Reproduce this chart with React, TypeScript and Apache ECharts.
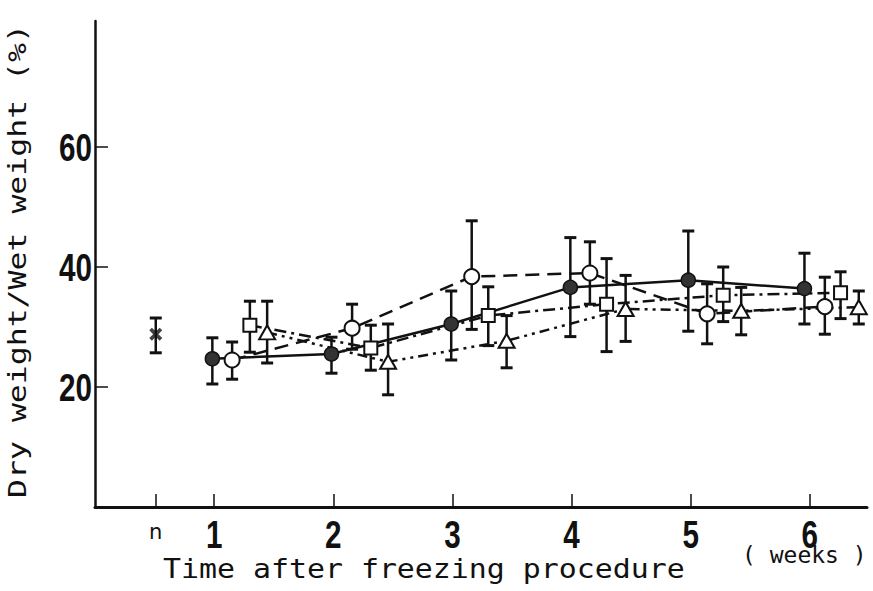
import React, { useEffect, useRef } from "react";
import * as echarts from "echarts";

// ---- data ----
const xTickValues = [0.51, 1, 2, 3, 4, 5, 6];
const xNumberLabels = [1, 2, 3, 4, 5, 6];
const xNormalLabel = [0.51];
const yTickValues = [20, 40, 60];

const normalX = [0.51];
const normalY = [28.8];
const normalLo = [25.7];
const normalHi = [31.5];

const filledX = [0.985, 1.985, 2.99, 3.99, 4.98, 5.955];
const filledY = [24.7, 25.5, 30.5, 36.6, 37.8, 36.4];
const filledLo = [20.5, 22.3, 24.5, 28.4, 29.3, 30.5];
const filledHi = [28.2, 28.3, 36.0, 44.9, 46.0, 42.3];

const openX = [1.151, 2.158, 3.162, 4.154, 5.138, 6.126];
const openY = [24.5, 29.8, 38.4, 39.0, 32.2, 33.4];
const openLo = [21.3, 26.3, 29.6, 33.8, 27.2, 28.8];
const openHi = [27.5, 33.8, 47.7, 44.2, 37.2, 38.3];

const squareX = [1.3, 2.315, 3.301, 4.294, 5.273, 6.258];
const squareY = [30.3, 26.5, 31.9, 33.8, 35.3, 35.7];
const squareLo = [25.8, 22.8, 26.9, 25.9, 30.9, 31.4];
const squareHi = [34.3, 30.3, 36.7, 41.4, 40.0, 39.2];

const triX = [1.445, 2.46, 3.455, 4.454, 5.424, 6.411];
const triY = [29.1, 24.2, 27.7, 33.0, 32.7, 33.3];
const triLo = [24.0, 18.7, 23.2, 27.6, 28.7, 30.5];
const triHi = [34.3, 30.5, 31.9, 38.6, 36.6, 36.0];

const numFont = "'Liberation Sans', Arial, sans-serif";
const monoFont = "'DejaVu Sans Mono', 'Liberation Mono', monospace";

function pts(xs: number[], ys: number[]) {
  return xs.map((x, i) => [x, ys[i]]);
}
function errs(xs: number[], lo: number[], hi: number[]) {
  return xs.map((x, i) => [x, lo[i], hi[i]]);
}

const errorData = [
  ...errs(normalX, normalLo, normalHi),
  ...errs(filledX, filledLo, filledHi),
  ...errs(openX, openLo, openHi),
  ...errs(squareX, squareLo, squareHi),
  ...errs(triX, triLo, triHi),
];

const numStyle = {
  fontSize: 38,
  fontWeight: "bold",
  fontFamily: numFont,
  fill: "#111",
};

export default function App() {
  const ref = useRef<HTMLDivElement>(null);
  useEffect(() => {
    if (!ref.current) return;
    const chart = echarts.init(ref.current, undefined, { renderer: "svg" });
    const lineCommon = {
      type: "line" as const,
      z: 3,
      showSymbol: true,
      silent: true,
    };
    chart.setOption({
      animation: false,
      backgroundColor: "#fff",
      grid: { left: 95, right: 6, top: 21, bottom: 84, containLabel: false },
      xAxis: {
        type: "value",
        min: 0,
        max: 6.48,
        interval: 1,
        splitLine: { show: false },
        axisLine: { show: true, onZero: false, lineStyle: { color: "#111", width: 3 } },
        axisTick: {
          show: true,
          inside: true,
          length: 13,
          customValues: xTickValues,
          lineStyle: { color: "#111", width: 1.5 },
        },
        axisLabel: {
          show: true,
          customValues: xNormalLabel,
          margin: 14,
          formatter: () => "n",
          fontSize: 21,
          fontFamily: "'DejaVu Sans', sans-serif",
          color: "#111",
        },
      },
      yAxis: {
        type: "value",
        min: 0,
        max: 81,
        interval: 20,
        splitLine: { show: false },
        axisLine: { show: true, onZero: false, lineStyle: { color: "#111", width: 2.5 } },
        axisTick: {
          show: true,
          inside: true,
          length: 13,
          customValues: yTickValues,
          lineStyle: { color: "#111", width: 1.5 },
        },
        axisLabel: { show: false },
      },
      graphic: [
        {
          type: "text",
          x: 18,
          y: 261,
          rotation: Math.PI / 2,
          scaleX: 1.26,
          style: {
            text: "Dry weight/Wet weight (%)",
            fontSize: 25,
            fontFamily: monoFont,
            fill: "#111",
            align: "center",
            verticalAlign: "middle",
          },
        },
        {
          type: "text",
          x: 163,
          y: 569,
          scaleX: 1.15,
          style: {
            text: "Time after freezing procedure",
            fontSize: 26,
            fontFamily: monoFont,
            fill: "#111",
            align: "left",
            verticalAlign: "middle",
          },
        },
        {
          type: "text",
          x: 742,
          y: 555,
          style: {
            text: "( weeks )",
            fontSize: 23,
            fontFamily: monoFont,
            fill: "#111",
            align: "left",
            verticalAlign: "middle",
          },
        },
      ],
      series: [
        {
          type: "custom",
          z: 1,
          silent: true,
          data: errorData,
          encode: { x: 0, y: [1, 2] },
          renderItem: (params: any, api: any) => {
            const x = api.value(0);
            const lo = api.coord([x, api.value(1)]);
            const hi = api.coord([x, api.value(2)]);
            const w = 6;
            const st = { stroke: "#111", lineWidth: 2.5 };
            return {
              type: "group",
              children: [
                { type: "line", shape: { x1: lo[0], y1: lo[1], x2: hi[0], y2: hi[1] }, style: st },
                { type: "line", shape: { x1: lo[0] - w, y1: lo[1], x2: lo[0] + w, y2: lo[1] }, style: { stroke: "#111", lineWidth: 3 } },
                { type: "line", shape: { x1: hi[0] - w, y1: hi[1], x2: hi[0] + w, y2: hi[1] }, style: { stroke: "#111", lineWidth: 3 } },
              ],
            };
          },
        },
        {
          // x-axis number labels (condensed via scale)
          type: "custom",
          z: 5,
          silent: true,
          clip: false,
          data: xNumberLabels.map((v) => [v, 0]),
          encode: { x: 0, y: 1 },
          renderItem: (params: any, api: any) => {
            const v = api.value(0);
            const p = api.coord([v, 0]);
            return {
              type: "text",
              x: p[0],
              y: p[1] + 28,
              scaleX: 0.78,
              style: { ...numStyle, text: String(v), align: "center", verticalAlign: "middle" },
            };
          },
        },
        {
          // y-axis number labels (condensed via scale)
          type: "custom",
          z: 5,
          silent: true,
          clip: false,
          data: yTickValues.map((v) => [0, v]),
          encode: { x: 0, y: 1 },
          renderItem: (params: any, api: any) => {
            const v = api.value(1);
            const p = api.coord([0, v]);
            return {
              type: "text",
              x: p[0] - 3,
              y: p[1] + 1,
              scaleX: 0.78,
              style: { ...numStyle, text: String(v), align: "right", verticalAlign: "middle" },
            };
          },
        },
        {
          type: "scatter",
          z: 4,
          silent: true,
          data: pts(normalX, normalY),
          symbol: "path://M2,0 L5,3 L8,0 L10,2 L7,5 L10,8 L8,10 L5,7 L2,10 L0,8 L3,5 L0,2 Z",
          symbolSize: 13,
          itemStyle: { color: "#111" },
        },
        {
          ...lineCommon,
          data: pts(filledX, filledY),
          symbol: "circle",
          symbolSize: 14,
          lineStyle: { color: "#111", width: 2.5, type: "solid" },
          itemStyle: { color: "#333", borderColor: "#111", borderWidth: 1.5 },
        },
        {
          ...lineCommon,
          data: pts(openX, openY),
          symbol: "circle",
          symbolSize: 15,
          lineStyle: { color: "#111", width: 2.5, type: [14, 8] },
          itemStyle: { color: "#fff", borderColor: "#111", borderWidth: 2 },
        },
        {
          ...lineCommon,
          data: pts(squareX, squareY),
          symbol: "rect",
          symbolSize: 13,
          lineStyle: { color: "#111", width: 2.5, type: [12, 5, 3, 5] },
          itemStyle: { color: "#fff", borderColor: "#111", borderWidth: 2 },
        },
        {
          ...lineCommon,
          data: pts(triX, triY),
          symbol: "triangle",
          symbolSize: [16, 14],
          lineStyle: { color: "#111", width: 2.5, type: [10, 5, 3, 5, 3, 5] },
          itemStyle: { color: "#fff", borderColor: "#111", borderWidth: 2 },
        },
      ],
    });
    return () => chart.dispose();
  }, []);
  return <div ref={ref} style={{ width: 873, height: 591, position: "absolute", left: 0, top: 0 }} />;
}
